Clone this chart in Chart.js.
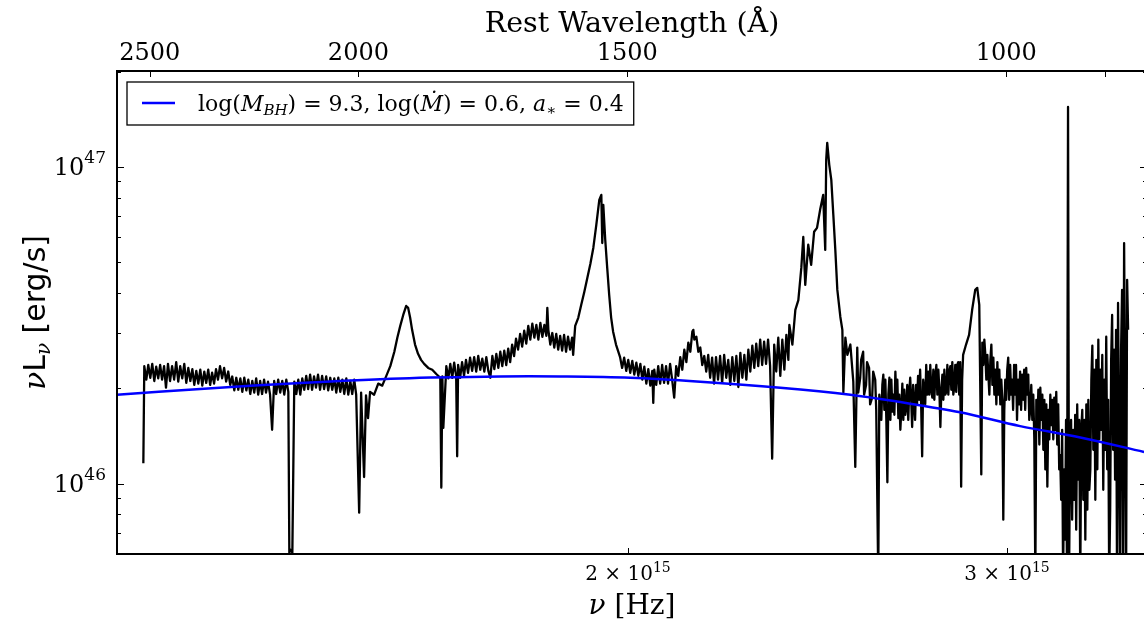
<!DOCTYPE html>
<html><head><meta charset="utf-8">
<script src="https://cdn.jsdelivr.net/npm/chart.js@4.4.1/dist/chart.umd.min.js"></script>
<style>
html,body{margin:0;padding:0;background:#fff;overflow:hidden;width:1144px;height:622px}
#wrap{position:relative;width:1152px;height:622px}
canvas{display:block}
</style></head>
<body><div id="wrap"><canvas id="c" width="1152" height="622"></canvas></div>
<script>
// Observed spectrum: frequency (units of 1e15 Hz) and nu*L_nu (units of 1e46 erg/s)
const specNu = [
1.1909,1.1921,1.1947,1.1972,1.1998,1.2023,1.2049,1.2074,1.2100,1.2125,
1.2150,1.2176,1.2201,1.2227,1.2254,1.2281,1.2308,1.2335,1.2362,1.2388,
1.2415,1.2442,1.2469,1.2496,1.2523,1.2550,1.2576,1.2603,1.2630,1.2657,
1.2684,1.2711,1.2738,1.2765,1.2791,1.2818,1.2845,1.2872,1.2899,1.2927,
1.2956,1.2984,1.3012,1.3041,1.3069,1.3097,1.3126,1.3154,1.3182,1.3211,
1.3239,1.3267,1.3296,1.3324,1.3352,1.3381,1.3409,1.3437,1.3466,1.3494,
1.3522,1.3551,1.3579,1.3608,1.3638,1.3668,1.3698,1.3727,1.3757,1.3787,
1.3817,1.3847,1.3877,1.3907,1.3922,1.3937,1.3967,1.3996,1.4026,1.4056,
1.4086,1.4116,1.4146,1.4176,1.4205,1.4235,1.4265,1.4295,1.4325,1.4356,
1.4387,1.4419,1.4450,1.4482,1.4513,1.4545,1.4576,1.4608,1.4639,1.4671,
1.4702,1.4734,1.4765,1.4797,1.4828,1.4860,1.4891,1.4923,1.4954,1.5002,
1.5033,1.5081,1.5112,1.5145,1.5178,1.5244,1.5311,1.5377,1.5444,1.5510,
1.5577,1.5627,1.5676,1.5726,1.5776,1.5809,1.5843,1.5876,1.5926,1.5977,
1.6029,1.6082,1.6152,1.6222,1.6292,1.6362,1.6380,1.6398,1.6415,1.6468,
1.6503,1.6538,1.6572,1.6607,1.6642,1.6660,1.6677,1.6713,1.6748,1.6783,
1.6818,1.6855,1.6892,1.6929,1.6966,1.7003,1.7040,1.7077,1.7114,1.7151,
1.7188,1.7225,1.7262,1.7299,1.7336,1.7373,1.7410,1.7447,1.7484,1.7521,
1.7558,1.7595,1.7632,1.7669,1.7706,1.7743,1.7782,1.7821,1.7860,1.7899,
1.7938,1.7977,1.8016,1.8055,1.8094,1.8133,1.8172,1.8211,1.8250,1.8289,
1.8328,1.8347,1.8367,1.8406,1.8445,1.8484,1.8523,1.8562,1.8601,1.8640,
1.8679,1.8718,1.8758,1.8799,1.8840,1.8861,1.8902,1.8964,1.9025,1.9087,
1.9149,1.9211,1.9273,1.9334,1.9396,1.9438,1.9458,1.9479,1.9520,1.9561,
1.9602,1.9644,1.9685,1.9746,1.9832,1.9876,1.9919,1.9963,2.0006,2.0049,
2.0093,2.0136,2.0180,2.0223,2.0267,2.0310,2.0353,2.0397,2.0440,2.0484,
2.0527,2.0549,2.0571,2.0614,2.0658,2.0701,2.0745,2.0788,2.0832,2.0876,
2.0922,2.0968,2.1014,2.1059,2.1105,2.1151,2.1197,2.1243,2.1289,2.1334,
2.1380,2.1426,2.1449,2.1472,2.1518,2.1564,2.1609,2.1655,2.1701,2.1747,
2.1793,2.1838,2.1884,2.1930,2.1976,2.2023,2.2072,2.2120,2.2168,2.2217,
2.2265,2.2313,2.2362,2.2410,2.2459,2.2507,2.2555,2.2604,2.2652,2.2700,
2.2749,2.2797,2.2846,2.2894,2.2942,2.2991,2.3039,2.3088,2.3136,2.3184,
2.3234,2.3285,2.3336,2.3387,2.3438,2.3489,2.3540,2.3591,2.3642,2.3693,
2.3744,2.3769,2.3846,2.3922,2.3999,2.4075,2.4126,2.4177,2.4254,2.4330,
2.4407,2.4483,2.4564,2.4645,2.4699,2.4725,2.4752,2.4806,2.4860,2.4914,
2.4967,2.5021,2.5102,2.5156,2.5183,2.5237,2.5291,2.5372,2.5452,2.5506,
2.5560,2.5587,2.5641,2.5667,2.5722,2.5748,2.5802,2.5829,2.5886,2.5914,
2.5971,2.5999,2.6056,2.6084,2.6141,2.6170,2.6198,2.6226,2.6255,2.6283,
2.6312,2.6340,2.6368,2.6397,2.6425,2.6454,2.6482,2.6510,2.6539,2.6567,
2.6595,2.6624,2.6652,2.6680,2.6709,2.6737,2.6766,2.6794,2.6823,2.6851,
2.6879,2.6907,2.6936,2.6964,2.6993,2.7021,2.7050,2.7078,2.7106,2.7135,
2.7163,2.7191,2.7220,2.7248,2.7278,2.7308,2.7338,2.7368,2.7398,2.7428,
2.7458,2.7488,2.7517,2.7547,2.7577,2.7607,2.7637,2.7667,2.7697,2.7727,
2.7757,2.7787,2.7817,2.7847,2.7877,2.7907,2.7937,2.7967,2.7997,2.8026,
2.8056,2.8086,2.8116,2.8146,2.8176,2.8206,2.8236,2.8266,2.8296,2.8326,
2.8356,2.8385,2.8415,2.8445,2.8475,2.8505,2.8535,2.8565,2.8595,2.8625,
2.8715,2.8808,2.8903,2.8998,2.9061,2.9124,2.9187,2.9219,2.9250,2.9282,
2.9314,2.9345,2.9377,2.9408,2.9440,2.9471,2.9503,2.9535,2.9566,2.9598,
2.9629,2.9661,2.9693,2.9724,2.9756,2.9787,2.9819,2.9850,2.9882,2.9914,
2.9945,2.9977,3.0008,3.0040,3.0071,3.0103,3.0135,3.0166,3.0198,3.0229,
3.0261,3.0292,3.0324,3.0357,3.0391,3.0424,3.0457,3.0491,3.0524,3.0557,
3.0591,3.0624,3.0657,3.0691,3.0724,3.0757,3.0790,3.0824,3.0857,3.0890,
3.0924,3.0957,3.0990,3.1024,3.1057,3.1090,3.1124,3.1157,3.1190,3.1224,
3.1257,3.1290,3.1324,3.1357,3.1390,3.1424,3.1457,3.1490,3.1524,3.1557,
3.1590,3.1624,3.1657,3.1690,3.1724,3.1757,3.1790,3.1824,3.1857,3.1890,
3.1923,3.1957,3.1990,3.2025,3.2060,3.2095,3.2130,3.2166,3.2201,3.2236,
3.2271,3.2306,3.2341,3.2377,3.2412,3.2447,3.2482,3.2517,3.2552,3.2588,
3.2623,3.2658,3.2693,3.2728,3.2763,3.2798,3.2834,3.2869,3.2904,3.2939,
3.2974,3.3009,3.3045,3.3080,3.3115,3.3150,3.3185,3.3220,3.3255,3.3291,
3.3326,3.3361,3.3396,3.3431,3.3466,3.3502,3.3537,3.3572,3.3607,3.3642,
3.3678,3.3713,3.3748,3.3785,3.3821,3.3858,3.3895,3.3931,3.3968,3.4005,
3.4041,3.4078,3.4115,3.4151
];
const specL = [
1.16,2.35,2.13,2.37,2.16,2.39,2.11,2.34,2.15,2.37,
2.13,2.35,2.01,2.39,2.11,2.35,2.13,2.42,2.10,2.35,
2.15,2.39,2.08,2.32,2.11,2.30,2.05,2.27,2.07,2.29,
2.04,2.26,2.08,2.29,2.05,2.24,2.07,2.30,2.13,2.35,
2.15,2.32,2.10,2.26,2.05,2.18,1.97,2.16,1.98,2.15,
1.95,2.16,1.97,2.13,1.92,2.11,1.94,2.15,1.91,2.11,
1.92,2.13,1.94,2.10,1.91,1.48,2.11,1.92,2.13,1.94,
2.11,1.91,2.13,1.95,0.606,0.619,0.606,2.10,1.92,2.13,
1.91,2.15,1.98,2.19,1.99,2.21,1.98,2.18,2.01,2.21,
1.98,2.19,1.99,2.18,1.97,2.16,1.98,2.15,1.94,2.16,
1.95,2.13,1.92,2.15,1.91,2.11,1.92,2.13,1.91,0.810,
1.94,1.05,1.90,1.61,1.95,1.91,2.07,2.04,2.19,2.35,
2.61,2.89,3.15,3.41,3.64,3.59,3.34,3.06,2.75,2.57,
2.46,2.39,2.32,2.29,2.22,2.16,0.972,2.18,1.50,2.35,
2.15,2.39,2.16,2.41,2.19,1.22,2.37,2.16,2.42,2.19,
2.46,2.24,2.50,2.27,2.51,2.26,2.53,2.29,2.48,2.26,
2.51,2.27,2.16,2.53,2.30,2.57,2.32,2.61,2.35,2.63,
2.37,2.67,2.42,2.75,2.53,2.87,2.65,2.97,2.71,3.04,
2.77,3.15,2.85,3.20,2.89,3.17,2.85,3.22,2.91,3.17,
2.93,3.59,3.06,2.75,2.99,2.69,2.97,2.65,2.93,2.63,
2.95,2.61,2.91,2.65,2.89,2.55,3.15,3.34,3.67,4.03,
4.46,4.94,5.56,6.56,7.87,8.16,5.75,7.59,5.88,4.80,
3.95,3.34,3.02,2.75,2.51,2.32,2.50,2.27,2.46,2.24,
2.44,2.21,2.41,2.19,2.39,2.13,2.34,2.07,2.30,2.04,
2.27,1.80,2.29,2.05,2.35,2.07,2.37,2.08,2.35,2.07,
2.39,2.13,1.87,2.35,2.19,2.51,2.29,2.65,2.42,2.79,
2.61,3.02,3.06,2.85,2.91,2.61,2.69,2.37,2.53,2.26,
2.55,2.16,2.50,2.07,2.51,2.13,2.53,2.08,2.55,2.16,
2.46,2.05,2.51,2.11,2.53,2.02,2.59,2.16,2.55,2.13,
2.65,2.26,2.73,2.32,2.77,2.35,2.85,2.37,2.81,2.39,
2.85,2.35,1.20,2.75,2.26,2.89,2.19,2.85,2.29,2.95,
2.46,3.17,2.75,3.54,3.80,4.80,6.01,4.24,5.68,4.91,
6.24,6.42,7.32,8.16,5.47,10.52,11.91,10.15,9.10,7.06,
5.47,4.09,3.36,3.06,1.94,2.89,2.55,2.75,2.10,1.13,
2.69,1.94,2.16,2.46,2.61,1.91,2.05,2.42,2.32,1.78,
1.87,2.26,2.13,1.71,0.50,1.91,1.78,1.59,2.05,2.21,
1.71,2.13,1.59,1.01,1.91,2.16,1.59,2.13,1.69,1.91,
1.65,2.26,1.84,2.13,1.61,1.91,1.48,1.71,2.07,1.59,
1.98,1.65,1.74,2.05,1.59,1.95,2.16,1.84,1.51,2.05,
1.81,1.59,2.05,1.78,2.19,1.84,2.29,1.78,1.22,2.13,
1.98,1.78,2.37,1.91,2.26,1.91,2.37,1.98,1.87,2.29,
1.84,2.21,2.37,1.91,2.29,1.98,1.51,1.98,2.21,1.84,
2.29,1.91,1.95,2.37,1.91,2.26,2.35,1.98,2.42,1.91,
2.01,2.37,1.95,2.37,2.42,1.91,2.42,0.979,2.13,2.55,
2.75,2.95,3.54,4.09,4.15,3.67,1.07,2.79,2.37,2.85,
2.55,2.13,2.55,2.21,1.91,2.46,2.75,2.05,2.50,1.91,
2.29,1.78,2.42,1.91,2.29,1.78,2.13,1.84,0.770,1.71,
2.13,1.84,2.29,2.50,1.84,2.37,1.91,2.13,1.71,2.37,
1.91,2.37,1.59,2.13,1.78,2.26,1.71,2.21,1.84,2.29,
1.71,2.32,1.91,2.21,1.59,1.71,2.05,1.59,1.91,1.38,
0.50,1.84,1.48,1.98,1.33,2.01,1.59,1.91,1.28,1.84,
1.11,1.78,0.979,1.71,1.38,1.91,1.53,1.84,1.38,1.87,
1.48,1.95,1.33,1.78,1.11,1.23,0.890,1.48,0.50,1.11,
0.666,1.59,0.50,15.46,0.50,1.28,1.59,0.770,1.48,0.890,
1.65,0.716,1.78,1.03,1.59,0.50,1.48,1.71,0.890,1.59,
0.666,1.78,0.828,1.84,0.957,1.11,2.13,2.73,1.28,2.29,
0.890,2.46,1.11,2.85,1.38,2.29,1.48,2.55,0.957,2.13,
1.28,2.91,1.11,1.84,0.50,0.828,2.46,3.41,1.28,2.65,
1.03,3.06,0.50,3.72,1.59,0.50,2.65,4.09,0.50,5.75,
1.84,0.50,4.40,3.06
];
if (specNu.length !== specL.length) throw new Error('length mismatch ' + specNu.length + ' vs ' + specL.length);

// Accretion-disc model curve
const modelNu = [1.1578,1.2657,1.4086,1.5676,1.7447,1.8601,2.0049,2.1609,2.3540,2.5372,2.6766,2.8535,3.0424,3.2447,3.4738];
const modelL  = [1.91,1.99,2.08,2.15,2.18,2.18,2.16,2.10,2.01,1.91,1.81,1.68,1.52,1.40,1.26];
const modelLabel = 'log(M_BH) = 9.3, log(Ṁ) = 0.6, a_* = 0.4';

// Axes
const xRange = [1.1578, 3.4848];          // 1e15 Hz
const yRange = [0.6015, 20.08];           // 1e46 erg/s
const xTickValues = [2, 3];
const xTickMantissa = ['2', '3'];
const xTickExponent = '15';
const yTickValues = [1, 10];
const yTickExponents = ['46', '47'];
const yMinorTicks = [0.7, 0.8, 0.9, 2, 3, 4, 5, 6, 7, 8, 9, 20];
const topTickValues = [2500, 2000, 1500, 1000, 900];   // Angstrom
const topTickLabels = ['2500', '2000', '1500', '1000', ''];
const C_ANG = 2997.92458; // c in Angstrom * 1e15 Hz

const SERIF = '"DejaVu Serif"';
const SANS = '"DejaVu Sans"';

function drawRuns(ctx, runs, x, y) {
  for (const r of runs) {
    ctx.font = r.f;
    ctx.fillText(r.t, x, y + (r.dy || 0));
    x += ctx.measureText(r.t).width;
  }
}
function runsWidth(ctx, runs) {
  let w = 0;
  for (const r of runs) { ctx.font = r.f; w += ctx.measureText(r.t).width; }
  return w;
}

const decor = {
  id: 'decor',
  afterDraw(chart) {
    const ctx = chart.ctx, a = chart.chartArea;
    const sx = chart.scales.x, sy = chart.scales.y, st = chart.scales.x2;
    ctx.save();
    ctx.fillStyle = '#000';
    ctx.strokeStyle = '#000';
    ctx.textBaseline = 'alphabetic';
    ctx.textAlign = 'left';
    // ticks
    ctx.lineWidth = 1;
    ctx.beginPath();
    for (const v of yTickValues) {
      const p = Math.round(sy.getPixelForValue(v)) + 0.5;
      ctx.moveTo(a.left, p); ctx.lineTo(a.left + 7, p);
      ctx.moveTo(a.right, p); ctx.lineTo(a.right - 7, p);
    }
    for (const v of yMinorTicks) {
      const p = Math.round(sy.getPixelForValue(v)) + 0.5;
      ctx.moveTo(a.left, p); ctx.lineTo(a.left + 4, p);
      ctx.moveTo(a.right, p); ctx.lineTo(a.right - 4, p);
    }
    for (const v of xTickValues) {
      const p = Math.round(sx.getPixelForValue(v)) + 0.5;
      ctx.moveTo(p, a.bottom); ctx.lineTo(p, a.bottom - 6);
    }
    for (const v of topTickValues) {
      const p = Math.round(st.getPixelForValue(v)) + 0.5;
      ctx.moveTo(p, a.top); ctx.lineTo(p, a.top + 6);
    }
    ctx.stroke();
    // frame
    ctx.lineWidth = 2;
    ctx.strokeRect(a.left, a.top, a.right - a.left, a.bottom - a.top);

    // y tick labels
    yTickValues.forEach((v, i) => {
      const p = sy.getPixelForValue(v);
      const runs = [{t: '10', f: `24px ${SERIF}`}, {t: yTickExponents[i], f: `17px ${SERIF}`, dy: -12}];
      const w = runsWidth(ctx, runs);
      drawRuns(ctx, runs, a.left - 11 - w, p + 8);
    });
    // x tick labels
    xTickValues.forEach((v, i) => {
      const p = sx.getPixelForValue(v);
      const runs = [{t: xTickMantissa[i] + ' \u00d7 10', f: `20px ${SERIF}`}, {t: xTickExponent, f: `14px ${SERIF}`, dy: -8}];
      const w = runsWidth(ctx, runs);
      drawRuns(ctx, runs, p - w / 2, a.bottom + 26);
    });
    // top tick labels
    ctx.font = `24px ${SERIF}`;
    ctx.textAlign = 'center';
    topTickValues.forEach((v, i) => {
      if (!topTickLabels[i]) return;
      ctx.fillText(topTickLabels[i], st.getPixelForValue(v), a.top - 11);
    });
    // top title
    ctx.font = `28.5px ${SERIF}`;
    ctx.fillText('Rest Wavelength (\u00c5)', (a.left + a.right) / 2, 32);
    ctx.textAlign = 'left';
    // x title
    {
      const runs = [{t: '\u03bd', f: `italic 28px ${SERIF}`}, {t: ' [Hz]', f: `28px ${SERIF}`}];
      const w = runsWidth(ctx, runs);
      drawRuns(ctx, runs, (a.left + a.right) / 2 - w / 2, 614);
    }
    // y title
    {
      ctx.save();
      ctx.translate(45, (a.top + a.bottom) / 2);
      ctx.rotate(-Math.PI / 2);
      const runs = [{t: '\u03bd', f: `italic 30px ${SERIF}`}, {t: 'L', f: `30px ${SANS}`},
                    {t: '\u03bd', f: `italic 20px ${SERIF}`, dy: 5}, {t: ' [erg/s]', f: `30px ${SANS}`}];
      const w = runsWidth(ctx, runs);
      drawRuns(ctx, runs, -w / 2, 0);
      ctx.restore();
    }
    // legend
    {
      const R = `22px ${SERIF}`, I = `italic 22px ${SERIF}`, S = `italic 15px ${SERIF}`, RS = `15px ${SERIF}`;
      const runs = [{t: 'log(', f: R}, {t: 'M', f: I}, {t: 'BH', f: S, dy: 4}, {t: ') = 9.3, log(', f: R},
                    {t: '\u1e40', f: I}, {t: ') = 0.6, ', f: R}, {t: 'a', f: I}, {t: '\u2217', f: RS, dy: 4}, {t: ' = 0.4', f: R}];
      const tw = runsWidth(ctx, runs);
      const bx = a.left + 10, by = a.top + 11, bh = 43, bw = 71 + tw + 10;
      ctx.fillStyle = '#fff';
      ctx.fillRect(bx, by, bw, bh);
      ctx.lineWidth = 1.3;
      ctx.strokeStyle = '#000';
      ctx.strokeRect(bx, by, bw, bh);
      ctx.strokeStyle = '#0000ff';
      ctx.lineWidth = 2.5;
      ctx.beginPath(); ctx.moveTo(bx + 15, by + 21); ctx.lineTo(bx + 48, by + 21); ctx.stroke();
      ctx.fillStyle = '#000';
      drawRuns(ctx, runs, bx + 71, by + 29);
    }
    ctx.restore();
  }
};

const specData = specNu.map((v, i) => ({x: v, y: specL[i]}));
const modelData = modelNu.map((v, i) => ({x: v, y: modelL[i]}));

new Chart(document.getElementById('c'), {
  type: 'scatter',
  data: {
    datasets: [
      {label: modelLabel, data: modelData, showLine: true, borderColor: '#0000ff', borderWidth: 2.5,
       pointRadius: 0, tension: 0.35, order: 0, clip: 0},
      {label: 'spectrum', data: specData, showLine: true, borderColor: '#000000', borderWidth: 2.3,
       borderJoinStyle: 'round', pointRadius: 0, tension: 0, order: 1, clip: 0}
    ]
  },
  options: {
    responsive: false,
    animation: false,
    devicePixelRatio: 1,
    layout: {padding: 0},
    plugins: {legend: {display: false}, tooltip: {enabled: false}},
    scales: {
      x: {type: 'logarithmic', position: 'bottom', min: xRange[0], max: xRange[1],
          ticks: {display: false}, grid: {display: false}, border: {display: false},
          afterFit: s => { s.height = 68; }},
      x2: {type: 'logarithmic', position: 'top', reverse: true, min: C_ANG / xRange[1], max: C_ANG / xRange[0],
           ticks: {display: false}, grid: {display: false}, border: {display: false},
           afterFit: s => { s.height = 71; }},
      y: {type: 'logarithmic', position: 'left', min: yRange[0], max: yRange[1],
          ticks: {display: false}, grid: {display: false}, border: {display: false},
          afterFit: s => { s.width = 117; }},
      y2: {type: 'logarithmic', position: 'right', min: yRange[0], max: yRange[1],
           ticks: {display: false}, grid: {display: false}, border: {display: false},
           afterFit: s => { s.width = 5; }}
    }
  },
  plugins: [decor]
});
</script>
</body></html>
